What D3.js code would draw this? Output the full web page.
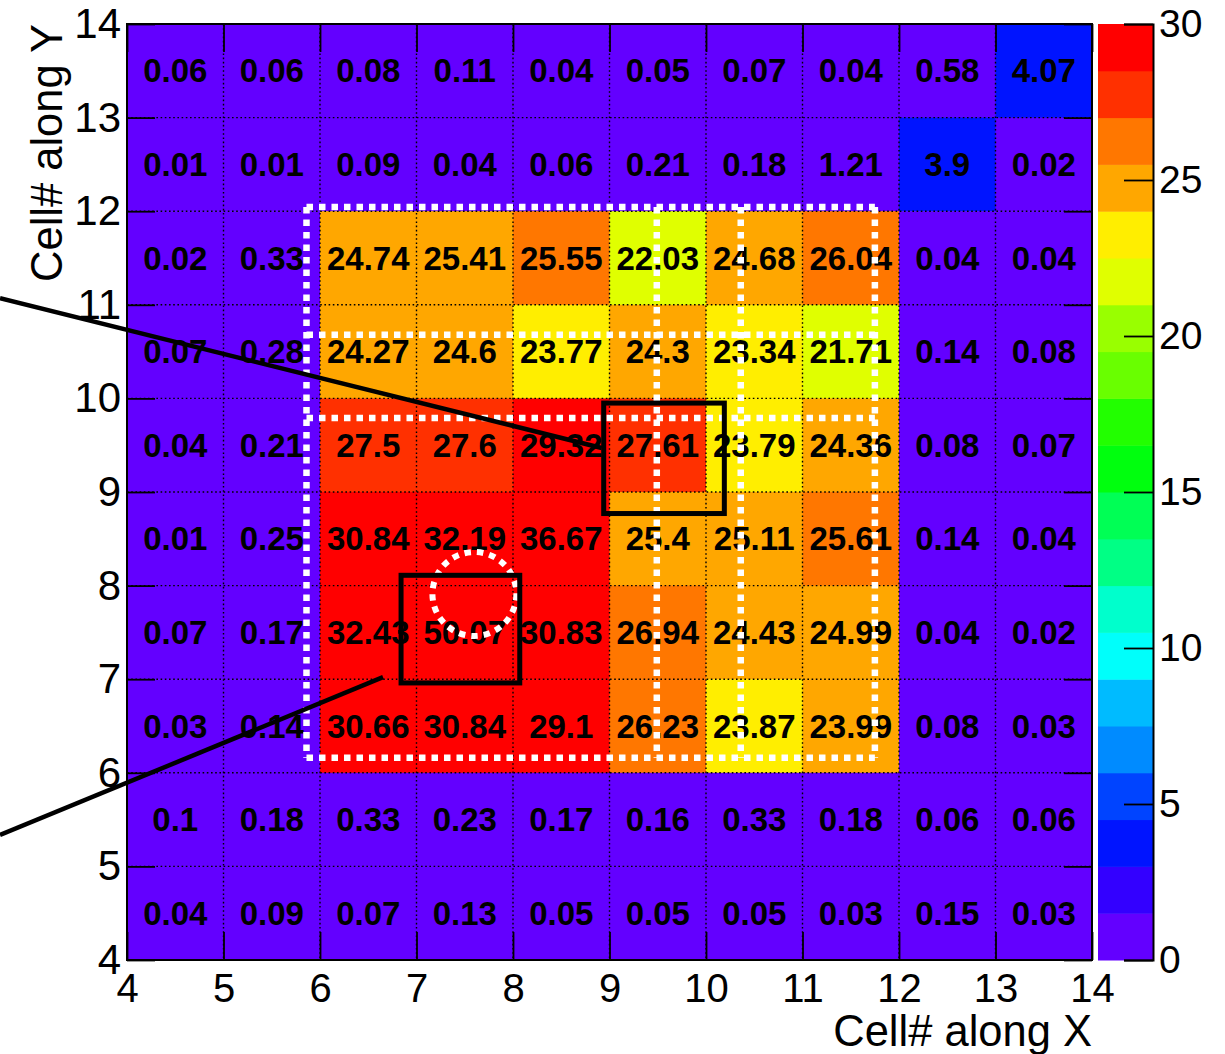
<!DOCTYPE html>
<html>
<head>
<meta charset="utf-8">
<script src="https://cdn.jsdelivr.net/npm/d3@7"></script>
<style>
	body { margin: 0; background: #fff; }
	text { font-family: "Liberation Sans", Arial, Helvetica, sans-serif; }
</style>
</head>
<body>
<div id="chart"></div>
<script>
// cell centres / bin low edges
var colX = [4, 5, 6, 7, 8, 9, 10, 11, 12, 13];
var rowY = [13, 12, 11, 10, 9, 8, 7, 6, 5, 4];

// one row per rowY entry, one value per colX entry
var cellValues = [
	[0.06, 0.06, 0.08, 0.11, 0.04, 0.05, 0.07, 0.04, 0.58, 4.07],
	[0.01, 0.01, 0.09, 0.04, 0.06, 0.21, 0.18, 1.21, 3.9, 0.02],
	[0.02, 0.33, 24.74, 25.41, 25.55, 22.03, 24.68, 26.04, 0.04, 0.04],
	[0.07, 0.28, 24.27, 24.6, 23.77, 24.3, 23.34, 21.71, 0.14, 0.08],
	[0.04, 0.21, 27.5, 27.6, 29.32, 27.61, 23.79, 24.36, 0.08, 0.07],
	[0.01, 0.25, 30.84, 32.19, 36.67, 25.4, 25.11, 25.61, 0.14, 0.04],
	[0.07, 0.17, 32.43, 50.07, 30.83, 26.94, 24.43, 24.99, 0.04, 0.02],
	[0.03, 0.14, 30.66, 30.84, 29.1, 26.23, 23.87, 23.99, 0.08, 0.03],
	[0.1, 0.18, 0.33, 0.23, 0.17, 0.16, 0.33, 0.18, 0.06, 0.06],
	[0.04, 0.09, 0.07, 0.13, 0.05, 0.05, 0.05, 0.03, 0.15, 0.03]
];

var axisTicks = [4, 5, 6, 7, 8, 9, 10, 11, 12, 13, 14];
var zTicks = [0, 5, 10, 15, 20, 25, 30];
var zRange = [0, 30];

// 20 contour levels, violet -> red
var palette = ["#6300ff", "#3300ff", "#0014ff", "#0044ff", "#008bff", "#00bbff", "#00fffb", "#00ffcc", "#00ff85", "#00ff55",
	"#00ff0e", "#22ff00", "#69ff00", "#99ff00", "#e0ff00", "#ffee00", "#ffa700", "#ff7700", "#ff3000", "#ff0000"];

// annotation overlays (data coordinates)
var moduleX = [5.86, 9.49, 10.36, 11.75];
var moduleY = [6.16, 9.79, 10.68, 12.045];
var ringCentre = [7.6, 7.91];
var ringRadius = 0.435;
var boxes = [
	{ x0: 8.94, x1: 10.19, y0: 8.77, y1: 9.95 },
	{ x0: 6.84, x1: 8.07, y0: 6.96, y1: 8.11 }
];
var pointers = [
	[[2.684, 11.07], [8.92, 9.47]],
	[[2.684, 5.335], [6.653, 7.022]]
];

var W = 1225, H = 1054;
var plot = { left: 127, right: 1092, top: 24, bottom: 960 };
var bar = { left: 1098, right: 1153 };

var svg = d3.select("#chart")
	.append("svg")
	.attr("width", W)
	.attr("height", H);

var x = d3.scaleLinear().domain([4, 14]).range([plot.left, plot.right]);
var y = d3.scaleLinear().domain([4, 14]).range([plot.bottom, plot.top]);
var z = d3.scaleLinear().domain(zRange).range([plot.bottom, plot.top]);
var step = (zRange[1] - zRange[0]) / palette.length;
var colour = d3.scaleQuantize()
	.domain([zRange[0] - 0.01 * step, zRange[1] - 0.01 * step])
	.range(palette);

var cells = [];
rowY.forEach(function(yy, i) {
	colX.forEach(function(xx, j) {
		cells.push({ x: xx, y: yy, v: cellValues[i][j] });
	});
});

// cells
svg.append("g").selectAll("rect")
	.data(cells)
	.enter().append("rect")
	.attr("x", function(d) { return x(d.x); })
	.attr("y", function(d) { return y(d.y + 1); })
	.attr("width", function(d) { return x(d.x + 1) - x(d.x) + 0.5; })
	.attr("height", function(d) { return y(d.y) - y(d.y + 1) + 0.5; })
	.style("fill", function(d) { return colour(d.v); });

// dotted grid
var inner = axisTicks.slice(1, -1);
var grid = svg.append("g")
	.style("stroke", "#000")
	.style("stroke-width", 1.4)
	.style("stroke-dasharray", "1.6,2.6");
grid.selectAll("line.gx")
	.data(inner)
	.enter().append("line")
	.attr("x1", function(d) { return x(d); })
	.attr("x2", function(d) { return x(d); })
	.attr("y1", plot.top)
	.attr("y2", plot.bottom);
grid.selectAll("line.gy")
	.data(inner)
	.enter().append("line")
	.attr("y1", function(d) { return y(d); })
	.attr("y2", function(d) { return y(d); })
	.attr("x1", plot.left)
	.attr("x2", plot.right);

// cell values
svg.append("g").selectAll("text")
	.data(cells)
	.enter().append("text")
	.attr("x", function(d) { return x(d.x + 0.5); })
	.attr("y", function(d) { return y(d.y + 0.5); })
	.attr("dy", "0.35em")
	.attr("text-anchor", "middle")
	.style("font-size", "33px")
	.style("font-weight", "bold")
	.style("fill", "#000")
	.text(function(d) { return String(d.v); });

// axes, ticks inside on all four sides
var tickLen = 28;
var xAxis = svg.append("g")
	.attr("transform", "translate(0," + plot.bottom + ")")
	.call(d3.axisBottom(x).tickValues(axisTicks).tickSize(-tickLen).tickPadding(14).tickFormat(d3.format("d")));
var yAxis = svg.append("g")
	.attr("transform", "translate(" + plot.left + ",0)")
	.call(d3.axisLeft(y).tickValues(axisTicks).tickSize(-tickLen).tickPadding(6).tickFormat(d3.format("d")));
svg.append("g")
	.attr("transform", "translate(0," + plot.top + ")")
	.call(d3.axisTop(x).tickValues(axisTicks).tickSize(-tickLen).tickFormat(""));
svg.append("g")
	.attr("transform", "translate(" + plot.right + ",0)")
	.call(d3.axisRight(y).tickValues(axisTicks).tickSize(-tickLen).tickFormat(""));

svg.selectAll(".domain").remove();
svg.selectAll(".tick line").style("stroke", "#000").style("stroke-width", 1.8);
xAxis.selectAll("text").style("font-size", "40px").style("fill", "#000").style("font-family", "Liberation Sans, Arial, sans-serif");
yAxis.selectAll("text").style("font-size", "42px").style("fill", "#000").style("font-family", "Liberation Sans, Arial, sans-serif");

svg.append("rect")
	.attr("x", plot.left)
	.attr("y", plot.top)
	.attr("width", plot.right - plot.left)
	.attr("height", plot.bottom - plot.top)
	.style("fill", "none")
	.style("stroke", "#000")
	.style("stroke-width", 2);

// axis titles
svg.append("text")
	.attr("x", plot.right)
	.attr("y", 1046)
	.attr("text-anchor", "end")
	.style("font-size", "43.5px")
	.text("Cell# along X");
svg.append("text")
	.attr("transform", "translate(62," + plot.top + ") rotate(-90)")
	.attr("text-anchor", "end")
	.style("font-size", "43.5px")
	.text("Cell# along Y");

// colour bar
svg.append("g").selectAll("rect")
	.data(palette)
	.enter().append("rect")
	.attr("x", bar.left)
	.attr("y", function(d, i) { return z(zRange[0] + (i + 1) * step); })
	.attr("width", bar.right - bar.left)
	.attr("height", function(d, i) { return z(zRange[0] + i * step) - z(zRange[0] + (i + 1) * step) + 0.5; })
	.style("fill", function(d) { return d; });

var zAxis = svg.append("g")
	.attr("transform", "translate(" + bar.right + ",0)")
	.call(d3.axisRight(z).tickValues(zTicks).tickSize(-29).tickPadding(6));
zAxis.select(".domain").style("stroke", "#000").style("stroke-width", 2);
zAxis.selectAll(".tick line").style("stroke", "#000").style("stroke-width", 1.8);
zAxis.selectAll("text").style("font-size", "39px").style("fill", "#000").style("font-family", "Liberation Sans, Arial, sans-serif");

// white dashed module outlines
var overlay = svg.append("g")
	.style("stroke", "#fff")
	.style("stroke-width", 6.5)
	.style("stroke-dasharray", "6.5,6")
	.style("fill", "none");
overlay.selectAll("line.mx")
	.data(moduleX)
	.enter().append("line")
	.attr("x1", function(d) { return x(d); })
	.attr("x2", function(d) { return x(d); })
	.attr("y1", y(moduleY[moduleY.length - 1]))
	.attr("y2", y(moduleY[0]));
overlay.selectAll("line.my")
	.data(moduleY)
	.enter().append("line")
	.attr("y1", function(d) { return y(d); })
	.attr("y2", function(d) { return y(d); })
	.attr("x1", x(moduleX[0]))
	.attr("x2", x(moduleX[moduleX.length - 1]));
overlay.append("circle")
	.attr("cx", x(ringCentre[0]))
	.attr("cy", y(ringCentre[1]))
	.attr("r", x(ringCentre[0] + ringRadius) - x(ringCentre[0]))
	.style("stroke-width", 6)
	.style("stroke-dasharray", "6.5,6");

// black boxes and pointer lines
svg.append("g").selectAll("rect")
	.data(boxes)
	.enter().append("rect")
	.attr("x", function(d) { return x(d.x0); })
	.attr("y", function(d) { return y(d.y1); })
	.attr("width", function(d) { return x(d.x1) - x(d.x0); })
	.attr("height", function(d) { return y(d.y0) - y(d.y1); })
	.style("fill", "none")
	.style("stroke", "#000")
	.style("stroke-width", 5);

var line = d3.line()
	.x(function(d) { return x(d[0]); })
	.y(function(d) { return y(d[1]); });
svg.append("g").selectAll("path")
	.data(pointers)
	.enter().append("path")
	.attr("d", line)
	.style("fill", "none")
	.style("stroke", "#000")
	.style("stroke-width", 4.5);
</script>
</body>
</html>
